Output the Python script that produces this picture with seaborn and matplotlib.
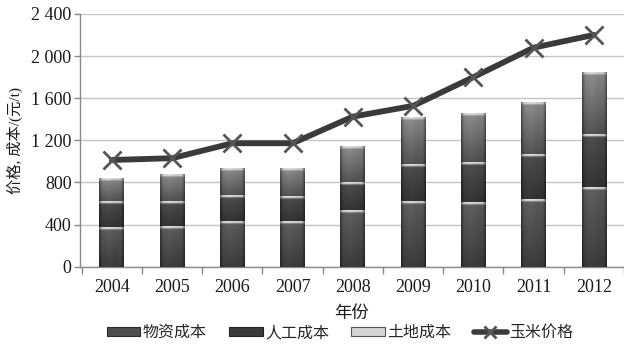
import numpy as np
import pandas as pd
import matplotlib
matplotlib.use("Agg")
import matplotlib.pyplot as plt
import seaborn as sns
from matplotlib.patches import Patch
from matplotlib.lines import Line2D

# ---- data -------------------------------------------------------------
years = ["2004", "2005", "2006", "2007", "2008", "2009", "2010", "2011", "2012"]
material_cost = [374, 380, 430, 430, 538, 618, 608, 642, 751]
labor_cost = [241, 240, 240, 235, 257, 352, 384, 423, 504]
land_cost = [225, 250, 262, 270, 348, 448, 459, 497, 592]
corn_price = [1013, 1030, 1172, 1172, 1425, 1527, 1800, 2080, 2201]

y_ticks = [0, 400, 800, 1200, 1600, 2000, 2400]
y_tick_labels = ["0", "400", "800", "1 200", "1 600", "2 000", "2 400"]
series_names = ["物资成本", "人工成本", "土地成本", "玉米价格"]
x_title = "年份"
y_title = "价格, 成本/(元/t)"

# ---- style ------------------------------------------------------------
sns.set_theme(style="white")
plt.rcParams["font.family"] = ["Liberation Serif", "Noto Sans CJK SC"]
plt.rcParams["axes.unicode_minus"] = False

fig = plt.figure(figsize=(6.24, 3.49), dpi=100)
ax = fig.add_axes([0.128, 0.236, 0.872, 0.724])

df = pd.DataFrame({
    "year": years,
    "material": material_cost,
    "labor": labor_cost,
    "land": land_cost,
})
df["cum1"] = df["material"]
df["cum2"] = df["cum1"] + df["labor"]
df["cum3"] = df["cum2"] + df["land"]

# stacked bars: cumulative totals, tallest first so lower layers sit on top
bar_width = 0.41
layer_cols = ["cum3", "cum2", "cum1"]
for col in layer_cols:
    sns.barplot(data=df, x="year", y=col, ax=ax, width=bar_width,
                color="#4a4a4a", linewidth=0, zorder=2, errorbar=None)

# shaded cylinder fill for each stacked segment: (lower bound, top/bottom grey)
seg_bounds = {
    "cum3": ("cum2", (0.52, 0.30)),   # land cost, lighter
    "cum2": ("cum1", (0.29, 0.19)),   # labour cost, darkest
    "cum1": (None, (0.35, 0.22)),     # material cost
}
n = len(years)
u = np.linspace(0, 1, 80)
edge = np.minimum(u, 1 - u)
col_profile = 0.6 + 0.4 * np.clip(edge / 0.12, 0, 1)
col_profile *= 1 + 0.08 * np.exp(-((u - 0.38) / 0.2) ** 2)

cap_color = 0.80
for li, col in enumerate(layer_cols):
    lower_col, (top_val, bot_val) = seg_bounds[col]
    for i in range(n):
        patch = ax.patches[li * n + i]
        x0 = patch.get_x()
        x1 = x0 + patch.get_width()
        y1 = patch.get_height()
        y0 = 0 if lower_col is None else df[lower_col].iloc[i]
        rows = 300
        v = np.linspace(0, 1, rows)
        seg_h = max(y1 - y0, 1)
        shade = top_val + (bot_val - top_val) * v
        # bright rounded cap fading into the segment colour
        cap = 14.0 / seg_h
        fade = 34.0 / seg_h
        w = np.where(v < cap, 1.0,
                     np.clip(1 - (v - cap) / max(fade - cap, 1e-6), 0, 1) ** 2)
        shade = shade * (1 - w) + cap_color * w
        img = shade[:, None] * col_profile[None, :]
        # round the cap corners a little
        corner = (v[:, None] < cap * 0.6) & (edge[None, :] < 0.08)
        img[corner] = 0.45
        img = np.clip(img, 0, 1)
        ax.imshow(img, extent=[x0, x1, y0, y1], aspect="auto", cmap="gray",
                  vmin=0, vmax=1, zorder=3, interpolation="bilinear",
                  origin="upper")
        patch.set_facecolor("none")

# corn price line
sns.pointplot(x=years, y=corn_price, ax=ax, color="#3a3a3a", markers="x",
              errorbar=None, linewidth=4.2, markersize=13,
              markeredgewidth=2.0, zorder=6)
for line in ax.lines:
    line.set_markeredgecolor("#555555")

# ---- axes -------------------------------------------------------------
ax.set_xlim(-0.53, 8.48)
ax.set_ylim(0, 2400)
ax.set_yticks(y_ticks)
ax.set_yticklabels(y_tick_labels)
ax.yaxis.grid(True, color="#c4c4c4", linewidth=1.0)
ax.xaxis.grid(False)
ax.set_axisbelow(True)

for side in ["top", "right"]:
    ax.spines[side].set_visible(False)
for side in ["left", "bottom"]:
    ax.spines[side].set_color("#8a8a8a")
    ax.spines[side].set_linewidth(1.0)

ax.tick_params(axis="y", which="major", left=True, length=4, width=1,
               color="#8a8a8a", labelsize=13, pad=2, labelcolor="#1a1a1a")
ax.tick_params(axis="x", which="major", bottom=False, length=0,
               labelsize=13, pad=9, labelcolor="#1a1a1a")
ax.set_xticks(np.arange(-0.5, n, 1.0), minor=True)
ax.tick_params(axis="x", which="minor", bottom=True, length=5, width=1,
               color="#8a8a8a")

ax.set_xlabel(x_title, fontsize=12.5, labelpad=7, color="#1a1a1a")
ax.set_ylabel(y_title, fontsize=11, labelpad=6, color="#1a1a1a")

# ---- legend -----------------------------------------------------------
handles = [
    Patch(facecolor="#4e4e4e", edgecolor="#2a2a2a", linewidth=0.8),
    Patch(facecolor="#3a3a3a", edgecolor="#222222", linewidth=0.8),
    Patch(facecolor="#d4d4d4", edgecolor="#555555", linewidth=0.8),
    Line2D([], [], color="#3a3a3a", linewidth=4, marker="x", markersize=9,
           markeredgewidth=2, markeredgecolor="#555555"),
]
fig.legend(handles, series_names, loc="center",
           bbox_to_anchor=(0.545, 1 - 333 / 349), ncol=4, frameon=False,
           fontsize=11.5, handlelength=2.1, handleheight=0.55,
           handletextpad=0.15, columnspacing=1.4, borderaxespad=0)

fig.savefig("out.png", dpi=100)
